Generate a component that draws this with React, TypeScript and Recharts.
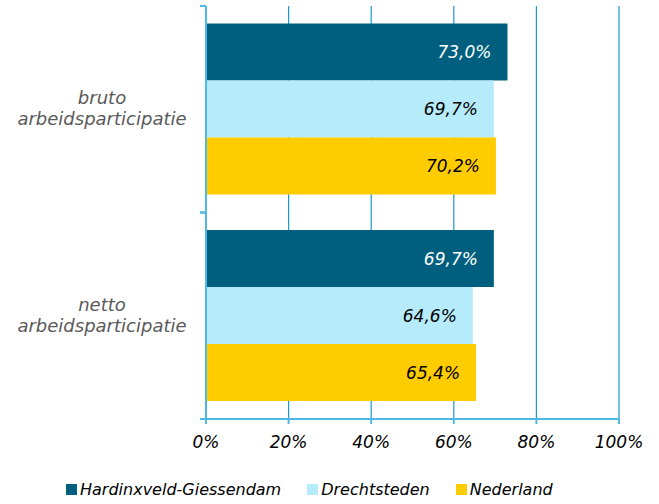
import React from "react";
import {
  BarChart,
  Bar,
  XAxis,
  YAxis,
  CartesianGrid,
  Legend,
  LabelList,
} from "recharts";

const categories = ["bruto\narbeidsparticipatie", "netto\narbeidsparticipatie"];
const hardinxveld = [73.0, 69.7];
const drechtsteden = [69.7, 64.6];
const nederland = [70.2, 65.4];
const xTicks = [0, 20, 40, 60, 80, 100];

const series = [
  { key: "hardinxveld", name: "Hardinxveld-Giessendam", color: "#005f7e", text: "#ffffff" },
  { key: "drechtsteden", name: "Drechtsteden", color: "#b6ebfc", text: "#000000" },
  { key: "nederland", name: "Nederland", color: "#ffcc00", text: "#000000" },
];

const data = categories.map((c, i) => ({
  category: c,
  hardinxveld: hardinxveld[i],
  drechtsteden: drechtsteden[i],
  nederland: nederland[i],
}));

const FONT = "'DejaVu Sans', Verdana, sans-serif";
const AXIS = "#4fb8e4";
const fmt = (v: number) => v.toFixed(1).replace(".", ",") + "%";

// label plus small tick marks at the band edges (Excel style)
const CategoryTick = (props: any) => {
  const { x, y, payload } = props;
  const lines = String(payload.value).split("\n");
  const half = payload.offset ?? 103;
  const axisX = x + 2;
  return (
    <g>
      <line x1={axisX - 6} x2={axisX} y1={y - half} y2={y - half} stroke={AXIS} strokeWidth={2} />
      <line x1={axisX - 6} x2={axisX} y1={y + half} y2={y + half} stroke={AXIS} strokeWidth={2} />
      <text
        x={102}
        y={y}
        textAnchor="middle"
        fill="#595959"
        fontFamily={FONT}
        fontStyle="italic"
        fontSize={18}
      >
        {lines.map((l, i) => (
          <tspan key={i} x={102} dy={i === 0 ? -5 : 21}>
            {l}
          </tspan>
        ))}
      </text>
    </g>
  );
};

const LegendContent = () => (
  <div
    style={{
      display: "flex",
      justifyContent: "flex-start",
      fontFamily: FONT,
      fontStyle: "italic",
      fontSize: 16,
      color: "#000",
      paddingLeft: 66,
      paddingTop: 6,
    }}
  >
    {series.map((s) => (
      <div key={s.key} style={{ display: "flex", alignItems: "center", marginRight: 26 }}>
        <span style={{ width: 11, height: 11, background: s.color, marginRight: 3, display: "inline-block" }} />
        <span>{s.name}</span>
      </div>
    ))}
  </div>
);

export default function App() {
  return (
    <div style={{ position: "absolute", left: 0, top: 0, width: 659, height: 504, background: "#fff" }}>
      <BarChart
        width={659}
        height={504}
        data={data}
        layout="vertical"
        margin={{ top: 6, right: 40, left: 0, bottom: 2 }}
        barCategoryGap="8.5%"
        barGap={0}
      >
        <CartesianGrid horizontal={false} stroke="#1b9ad0" strokeWidth={1.2} />
        <XAxis
          type="number"
          domain={[0, 100]}
          ticks={xTicks}
          height={55}
          tickFormatter={(v) => `${v}%`}
          stroke={AXIS}
          strokeWidth={2}
          tickSize={5}
          tick={{ fill: "#000", fontFamily: FONT, fontStyle: "italic", fontSize: 17, dy: 10 }}
        />
        <YAxis
          type="category"
          dataKey="category"
          width={206}
          axisLine={{ stroke: AXIS, strokeWidth: 2 }}
          tickLine={false}
          tickSize={0}
          tick={<CategoryTick />}
        />
        <Legend verticalAlign="bottom" height={28} content={<LegendContent />} />
        {series.map((s) => (
          <Bar key={s.key} dataKey={s.key} name={s.name} fill={s.color} isAnimationActive={false}>
            <LabelList
              dataKey={s.key}
              position="insideRight"
              offset={16}
              formatter={(v: any) => fmt(Number(v))}
              fill={s.text}
              fontFamily={FONT}
              fontStyle="italic"
              fontSize={17}
            />
          </Bar>
        ))}
      </BarChart>
    </div>
  );
}
